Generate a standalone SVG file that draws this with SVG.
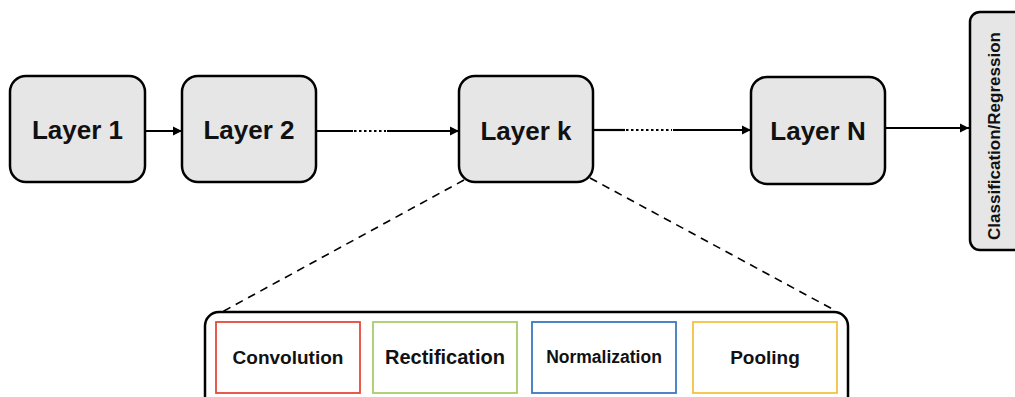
<svg xmlns="http://www.w3.org/2000/svg" width="1015" height="397" viewBox="0 0 1015 397">
<style>
.node{fill:#e6e6e6;stroke:#000;stroke-width:2.5}
.lbl{font-family:"Liberation Sans",Arial,sans-serif;font-weight:bold;fill:#111;text-anchor:middle}
.big{font-size:26px}
.small{font-size:19px}
.ln{stroke:#000;stroke-width:2.2;fill:none}
.dot{stroke:#000;stroke-width:2.2;fill:none;stroke-dasharray:2.5 2.5}
.dash{stroke:#000;stroke-width:1.6;fill:none;stroke-dasharray:8 6}
.op{fill:#fff;stroke-width:1.8}
</style>
<defs>
<marker id="ah" viewBox="0 0 10 10" refX="10" refY="5" markerWidth="4.2" markerHeight="4.2" orient="auto" markerUnits="strokeWidth">
<path d="M0,0 L10,5 L0,10 z" fill="#000"/>
</marker>
</defs>
<g id="connectors">
<line class="ln" x1="145" y1="131" x2="182" y2="131" marker-end="url(#ah)"/>
<line class="ln" x1="316" y1="131" x2="353" y2="131"/>
<line class="dot" x1="354" y1="131" x2="386" y2="131"/>
<line class="ln" x1="387" y1="131" x2="459" y2="131" marker-end="url(#ah)"/>
<line class="ln" x1="593" y1="130" x2="625" y2="130"/>
<line class="dot" x1="626" y1="130" x2="672" y2="130"/>
<line class="ln" x1="673" y1="130" x2="751" y2="130" marker-end="url(#ah)"/>
<line class="ln" x1="885" y1="128" x2="969" y2="128" marker-end="url(#ah)"/>
<line class="dash" x1="464" y1="180" x2="222" y2="312"/>
<line class="dash" x1="590" y1="178" x2="836" y2="311"/>
</g>
<g id="layer1">
<rect class="node" x="10" y="76" width="135" height="106" rx="16"/>
<text class="lbl big" x="77.5" y="139">Layer 1</text>
</g>
<g id="layer2">
<rect class="node" x="182" y="76" width="134" height="106" rx="16"/>
<text class="lbl big" x="249" y="139">Layer 2</text>
</g>
<g id="layerk">
<rect class="node" x="459" y="76" width="134" height="106" rx="16"/>
<text class="lbl big" x="526" y="140">Layer k</text>
</g>
<g id="layerN">
<rect class="node" x="751" y="77" width="134" height="107" rx="16"/>
<text class="lbl big" x="818" y="140">Layer N</text>
</g>
<g id="classification">
<rect class="node" x="970" y="12" width="60" height="238" rx="10"/>
<text class="lbl" style="font-size:17px" transform="translate(1000,136) rotate(-90)">Classification/Regression</text>
</g>
<g id="layerk-detail">
<rect x="205" y="312" width="643" height="100" rx="14" fill="none" stroke="#000" stroke-width="2.5"/>
</g>
<g id="convolution">
<rect class="op" x="216" y="322" width="144" height="71" stroke="#e8473b"/>
<text class="lbl small" x="288" y="364">Convolution</text>
</g>
<g id="rectification">
<rect class="op" x="373" y="322" width="144" height="71" stroke="#a8cc6c"/>
<text class="lbl" style="font-size:20px" x="445" y="364">Rectification</text>
</g>
<g id="normalization">
<rect class="op" x="532" y="322" width="144" height="71" stroke="#3b78c1"/>
<text class="lbl" style="font-size:17.5px" x="604" y="363">Normalization</text>
</g>
<g id="pooling">
<rect class="op" x="693" y="322" width="144" height="71" stroke="#f4c244"/>
<text class="lbl small" x="765" y="364">Pooling</text>
</g>
</svg>
